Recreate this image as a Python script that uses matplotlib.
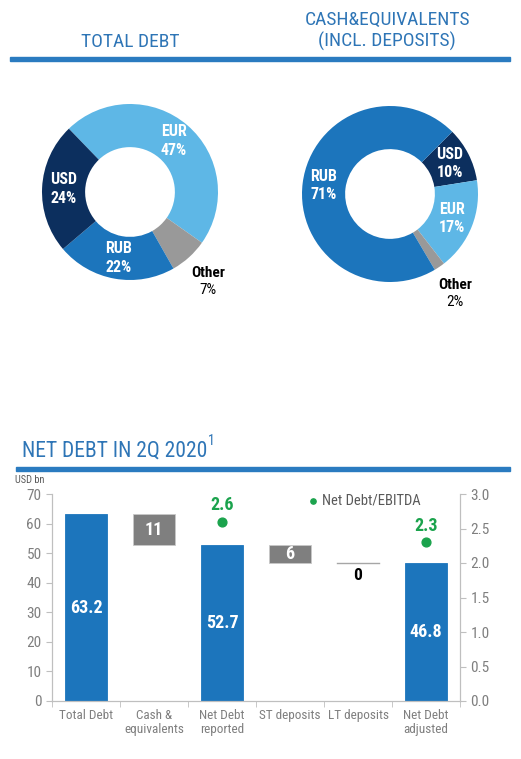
import numpy as np
import matplotlib
matplotlib.use("Agg")
import matplotlib.pyplot as plt
from matplotlib.patches import Rectangle

plt.rcParams['font.family'] = ['Roboto Condensed', 'DejaVu Sans']

# donut data
debt_labels = ['EUR', 'Other', 'RUB', 'USD']
debt_pct = [47, 7, 22, 24]
cash_labels = ['USD', 'EUR', 'Other', 'RUB']
cash_pct = [10, 17, 2, 71]

# waterfall data
categories = ['Total Debt', 'Cash &\nequivalents', 'Net Debt\nreported',
              'ST deposits', 'LT deposits', 'Net Debt\nadjusted']
total_debt = 63.2
cash = 10.5
net_reported = 52.7
st_dep = 5.9
lt_dep = 0.0
net_adjusted = 46.8
step_labels = ['63.2', '11', '52.7', '6', '0', '46.8']
ratio_pos = [2, 5]
ratio_vals = [2.6, 2.3]

BLUE = '#1C75BC'
LIGHT = '#5EB7E6'
NAVY = '#0C2F5E'
GREY = '#999999'
BOX = '#7F7F7F'
TITLE = '#2E75B6'
GREEN = '#1BA34D'
seg_colors = {'EUR': LIGHT, 'RUB': BLUE, 'USD': NAVY, 'Other': GREY}

W, H = 521, 759
fig = plt.figure(figsize=(W / 100, H / 100), dpi=100)


def px_axes(x0, y0, w, h):
    return fig.add_axes([x0 / W, 1 - (y0 + h) / H, w / W, h / H])


def donut(cx, cy, labels, pcts, start):
    r = 88
    ax = px_axes(cx - r, cy - r, 2 * r, 2 * r)
    wedges, _ = ax.pie(pcts, colors=[seg_colors[l] for l in labels],
                       startangle=start, counterclock=False, radius=1,
                       wedgeprops=dict(width=0.49, linewidth=0))
    ax.set_xlim(-1, 1)
    ax.set_ylim(-1, 1)
    ax.set_aspect('equal')
    ax.axis('off')
    for w, lab, p in zip(wedges, labels, pcts):
        mid = np.deg2rad((w.theta1 + w.theta2) / 2)
        if lab == 'Other':
            tx, ty = 1.32 * np.cos(mid), 1.32 * np.sin(mid)
            ax.text(tx, ty - 0.02, lab, ha='center', va='bottom', color='black',
                    fontsize=11, fontweight='bold', clip_on=False)
            ax.text(tx, ty - 0.06, f'{p}%', ha='center', va='top', color='black',
                    fontsize=11, clip_on=False)
        else:
            rr = 0.76
            ax.text(rr * np.cos(mid), rr * np.sin(mid), f'{lab}\n{p}%',
                    ha='center', va='center', color='white', fontsize=11.5,
                    fontweight='bold', linespacing=1.3, clip_on=False)


donut(130, 192, debt_labels, debt_pct, 134)
donut(390, 194, cash_labels, cash_pct, 45)

fig.text(130 / W, 1 - 42 / H, 'TOTAL DEBT', ha='center', va='center',
         color=TITLE, fontsize=14)
fig.text(387 / W, 1 - 31 / H, 'CASH&EQUIVALENTS\n(INCL. DEPOSITS)', ha='center',
         va='center', color=TITLE, fontsize=14, linespacing=1.25)
fig.add_artist(Rectangle((10 / W, 1 - 61 / H), 500 / W, 4 / H,
                         color='#2A7BC0', transform=fig.transFigure))

fig.text(22 / W, 1 - 451 / H, 'NET DEBT IN 2Q 2020', ha='left', va='center',
         color=TITLE, fontsize=15.5)
fig.text(208 / W, 1 - 441 / H, '1', ha='left', va='center',
         color=TITLE, fontsize=10)
fig.add_artist(Rectangle((16 / W, 1 - 471 / H), 494 / W, 4 / H,
                         color='#2A7BC0', transform=fig.transFigure))
fig.text(15 / W, 1 - 480 / H, 'USD bn', ha='left', va='center',
         color='#595959', fontsize=7.5)

# waterfall
ax = px_axes(52, 494, 408, 207)
x = np.arange(len(categories))
bw = 0.61
bottoms = [0, net_reported, 0, net_adjusted, net_adjusted, 0]
heights = [total_debt, cash, net_reported, st_dep, lt_dep, net_adjusted]
cols = [BLUE, BOX, BLUE, BOX, BOX, BLUE]
for i in range(len(categories)):
    if heights[i] == 0:
        ax.plot([x[i] - bw / 2, x[i] + bw / 2], [bottoms[i], bottoms[i]],
                color='#A6A6A6', lw=1)
        ax.text(x[i], bottoms[i] - 4.5, step_labels[i], ha='center',
                va='center', color='black', fontsize=12.5, fontweight='bold')
        continue
    ax.bar(x[i], heights[i], bottom=bottoms[i], width=bw, color=cols[i],
           edgecolor='#C8C8C8' if cols[i] == BOX else cols[i], linewidth=0.6)
    ax.text(x[i], bottoms[i] + heights[i] / 2, step_labels[i], ha='center',
            va='center', color='white', fontsize=13, fontweight='bold')

ax.set_xlim(-0.5, len(categories) - 0.5)
ax.set_ylim(0, 70)
ax.set_yticks(range(0, 71, 10))
ax.set_xticks(x)
ax.set_xticklabels(categories, color='#7F7F7F', fontsize=9.5, linespacing=1.1)
ax.set_xticks(np.arange(-0.5, len(categories)), minor=True)
ax.tick_params(axis='x', which='major', length=0, pad=6)
ax.tick_params(axis='x', which='minor', length=4, color='#BFBFBF')
ax.tick_params(axis='y', colors='#7F7F7F', labelsize=11, length=4, color='#BFBFBF')
ax.spines['top'].set_visible(False)
for s in ['left', 'right', 'bottom']:
    ax.spines[s].set_color('#BFBFBF')

ax2 = ax.twinx()
ax2.set_ylim(0, 3)
ax2.set_yticks(np.arange(0, 3.01, 0.5))
ax2.set_yticklabels([f'{v:.1f}' for v in np.arange(0, 3.01, 0.5)])
ax2.tick_params(axis='y', colors='#7F7F7F', labelsize=11, length=4, color='#BFBFBF')
ax2.spines['top'].set_visible(False)
for s in ['left', 'right', 'bottom']:
    ax2.spines[s].set_color('#BFBFBF')
ax2.scatter(ratio_pos, ratio_vals, s=40, color=GREEN, zorder=5,
            label='Net Debt/EBITDA')
for xp, v in zip(ratio_pos, ratio_vals):
    ax2.text(xp, v + 0.24, f'{v:.1f}', ha='center', va='center', color=GREEN,
             fontsize=13, fontweight='bold')
leg = ax2.legend(loc='upper right', bbox_to_anchor=(0.935, 1.065), frameon=False,
                 fontsize=10.5, handletextpad=0.1, markerscale=0.6,
                 handlelength=1)
for t in leg.get_texts():
    t.set_color('#595959')

fig.savefig('out.png', dpi=100)
